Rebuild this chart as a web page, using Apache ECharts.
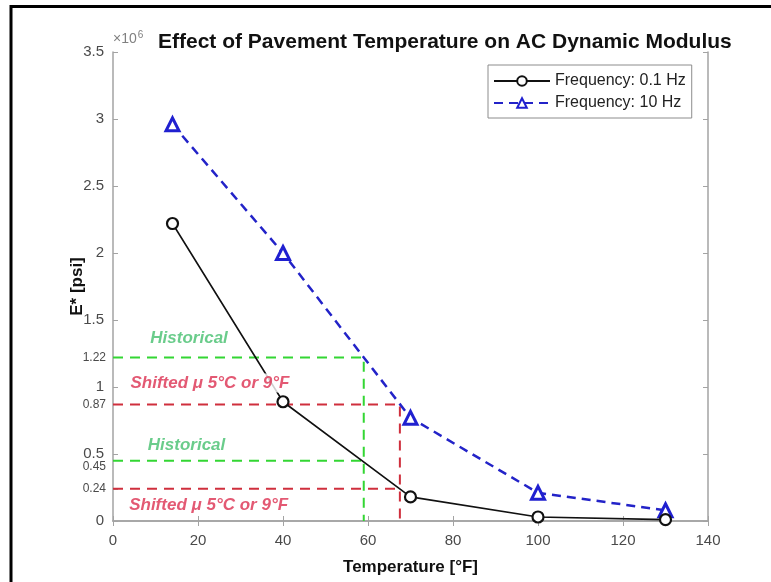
<!DOCTYPE html>
<html>
<head>
<meta charset="utf-8">
<script src="https://cdn.jsdelivr.net/npm/echarts@6/dist/echarts.min.js"></script>
<style>
  html, body { margin: 0; padding: 0; background: #fff; }
  #chart { width: 771px; height: 582px; }
</style>
</head>
<body>
<div id="chart"></div>
<script>
// Pavement temperature (°F) and dynamic modulus |E*| in units of 10^6 psi
const temps = [14, 40, 70, 100, 130];
const modulus01Hz = [2.22, 0.89, 0.18, 0.03, 0.01];
const modulus10Hz = [2.96, 2.00, 0.77, 0.21, 0.08];

// Historical vs. shifted (+5°C / +9°F) pavement temperature read-offs
const historicalTemp = 59;
const shiftedTemp = 67.5;
const historicalModuli = [1.22, 0.45];
const shiftedModuli = [0.87, 0.24];
const markedModuli = [0.24, 0.45, 0.87, 1.22];

// Axis ranges
const xTickStep = 20, xMax = 140;
const yTickStep = 0.5, yMax = 3.5;

// Annotation texts and anchor points (data coordinates)
const noteTexts = ['Historical', 'Shifted \u03bc 5°C or 9°F', 'Historical', 'Shifted \u03bc 5°C or 9°F'];
const noteAnchors = [[17.9, 1.36], [22.8, 1.03], [17.3, 0.567], [22.5, 0.12]];
const noteKinds = ['hist', 'shift', 'hist', 'shift'];

const GREEN_LINE = '#33d633';
const RED_LINE = '#cf2f3d';
const GREEN_TEXT = '#45bf6e';
const RED_TEXT = '#dc3050';
const AXIS_GREY = '#a3a3a3';
const LABEL_GREY = '#4a4a4a';
const FONT = '"Liberation Sans", Arial, Helvetica, sans-serif';

function pairs(xs, ys) { return xs.map((x, i) => [x, ys[i]]); }

// dashed read-off guides: horizontal from the y axis, plus a drop line for the upper one
function guideSeries(temp, moduli, color) {
  const out = [];
  moduli.forEach((m, i) => {
    const pts = [[0, m], [temp, m]];
    if (i === 0) pts.push([temp, 0]);
    out.push({
      type: 'line', data: pts, symbol: 'none', silent: true, z: 1,
      lineStyle: { color: color, width: 2, type: [10, 7] },
      animation: false
    });
  });
  return out;
}

const chart = echarts.init(document.getElementById('chart'), null, { renderer: 'canvas' });

const option = {
  animation: false,
  backgroundColor: '#fff',
  textStyle: { fontFamily: FONT },
  title: {
    text: 'Effect of Pavement Temperature on AC Dynamic Modulus',
    left: 158, top: 32, padding: 0,
    textStyle: { fontSize: 21, fontWeight: 'bold', color: '#111', fontFamily: FONT }
  },
  grid: { left: 113, right: 63, top: 52, bottom: 61, containLabel: false },
  legend: {
    orient: 'vertical', left: 488, top: 65,
    padding: [8, 6, 7, 5], itemGap: 6,
    itemWidth: 56, itemHeight: 12,
    backgroundColor: '#fff', borderColor: '#8c8c8c', borderWidth: 1,
    textStyle: { fontSize: 16, color: '#222', fontFamily: FONT },
    data: ['Frequency: 0.1 Hz', 'Frequency: 10 Hz']
  },
  xAxis: [{
    type: 'value', min: 0, max: xMax, interval: xTickStep,
    name: 'Temperature [°F]', nameLocation: 'middle', nameGap: 38, nameMoveOverlap: false,
    nameTextStyle: { fontSize: 17, fontWeight: 'bold', color: '#111', fontFamily: FONT },
    axisLine: { show: true, lineStyle: { color: AXIS_GREY, width: 1.5 } },
    axisTick: { show: true, inside: true, length: 5, lineStyle: { color: AXIS_GREY } },
    axisLabel: { fontSize: 15, color: LABEL_GREY, margin: 12, fontFamily: FONT },
    splitLine: { show: false }
  }, {
    type: 'value', min: 0, max: xMax, interval: xTickStep, position: 'top',
    axisLine: { show: true, lineStyle: { color: AXIS_GREY, width: 1.5 } },
    axisTick: { show: true, inside: true, length: 5, lineStyle: { color: AXIS_GREY } },
    axisLabel: { show: false }, splitLine: { show: false }
  }],
  yAxis: [{
    type: 'value', min: 0, max: yMax, interval: yTickStep,
    name: 'E* [psi]', nameLocation: 'middle', nameGap: 27, nameRotate: 90, nameMoveOverlap: false,
    nameTextStyle: { fontSize: 17, fontWeight: 'bold', color: '#111', fontFamily: FONT },
    axisLine: { show: true, lineStyle: { color: AXIS_GREY, width: 1.5 } },
    axisTick: { show: true, inside: true, length: 5, lineStyle: { color: AXIS_GREY } },
    axisLabel: { fontSize: 15, color: LABEL_GREY, margin: 9, fontFamily: FONT },
    splitLine: { show: false }
  }, {
    type: 'value', min: 0, max: yMax, position: 'left',
    axisLine: { show: false },
    axisTick: { show: true, inside: true, length: 5, lineStyle: { color: AXIS_GREY }, customValues: markedModuli },
    axisLabel: {
      show: true, fontSize: 12, color: LABEL_GREY, margin: 7, fontFamily: FONT,
      customValues: markedModuli,
      // 0.45 sits just under the 0.5 tick label, so nudge it down a little
      formatter: v => (Math.abs(v - 0.45) < 1e-9 ? '{low|0.45}' : String(v)),
      rich: { low: { fontSize: 12, color: LABEL_GREY, fontFamily: FONT, padding: [12, 0, 0, 0] } }
    },
    splitLine: { show: false }
  }, {
    type: 'value', min: 0, max: yMax, interval: yTickStep, position: 'right',
    axisLine: { show: true, lineStyle: { color: AXIS_GREY, width: 1.5 } },
    axisTick: { show: true, inside: true, length: 5, lineStyle: { color: AXIS_GREY } },
    axisLabel: { show: false }, splitLine: { show: false }
  }],
  series: [
    ...guideSeries(historicalTemp, historicalModuli, GREEN_LINE),
    ...guideSeries(shiftedTemp, shiftedModuli, RED_LINE),
    {
      name: 'Frequency: 10 Hz', type: 'line', z: 3,
      data: pairs(temps, modulus10Hz),
      symbol: 'triangle', symbolSize: 13,
      lineStyle: { color: '#2323c8', width: 2.5, type: [9, 6] },
      itemStyle: { color: '#fff', borderColor: '#2020d0', borderWidth: 3 }
    },
    {
      name: 'Frequency: 0.1 Hz', type: 'line', z: 4,
      data: pairs(temps, modulus01Hz),
      symbol: 'circle', symbolSize: 11,
      lineStyle: { color: '#111', width: 1.6 },
      itemStyle: { color: '#fff', borderColor: '#111', borderWidth: 2.2 }
    },
    {
      type: 'scatter', z: 10, silent: true, symbolSize: 0,
      data: noteAnchors.map((p, i) => ({
        value: p, name: noteTexts[i],
        label: {
          color: noteKinds[i] === 'hist' ? GREEN_TEXT : RED_TEXT,
          backgroundColor: noteKinds[i] === 'shift' ? '#fff' : 'transparent'
        }
      })),
      label: {
        show: true, position: 'inside', formatter: '{b}',
        fontSize: 17, fontWeight: 'bold', fontStyle: 'italic', fontFamily: FONT,
        padding: [1, 2]
      }
    }
  ],
  graphic: [
    {
      type: 'polyline', silent: true,
      shape: { points: [[11, 600], [11, 6.5], [790, 6.5]] },
      style: { stroke: '#000', lineWidth: 3, fill: null }
    },
    {
      type: 'text', silent: true, left: 113, top: 30,
      style: {
        text: '{a|\u00d710}{b|6}', fontFamily: FONT,
        rich: {
          a: { fontSize: 14, fill: '#808080', fontFamily: FONT },
          b: { fontSize: 10, fill: '#808080', fontFamily: FONT, verticalAlign: 'top', padding: [0, 0, 8, 1] }
        }
      }
    }
  ]
};

chart.setOption(option);
</script>
</body>
</html>
